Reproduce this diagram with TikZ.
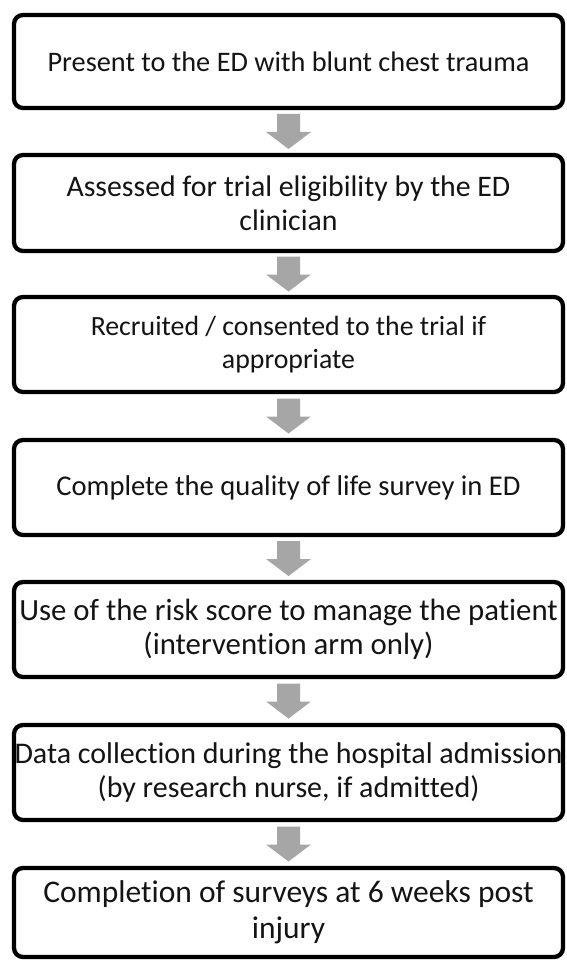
\documentclass[tikz,border=0pt]{standalone}
\usepackage{fontspec}
\setmainfont{Carlito}[RawFeature={-liga;-clig}]
\usetikzlibrary{calc}
\definecolor{arrowgray}{RGB}{166,166,166}
\definecolor{txt}{RGB}{20,20,20}
\tikzset{
  stepbox/.style={draw=black, line width=4.3pt, rounded corners=9pt,
    minimum width=549pt, inner sep=0pt, align=center, text=txt, fill=white},
  flowarrow/.style={fill=arrowgray, draw=none}
}
\newcommand{\fs}[2]{\fontsize{#1}{#2}\selectfont}
\begin{document}
\begin{tikzpicture}[x=1pt,y=-1pt]
\useasboundingbox (0,0) rectangle (566,960);
\node[stepbox, minimum height=93pt, font=\fs{28.3}{34}] (b1) at (288.5,61.5)
  {Present to the ED with blunt chest trauma};
\node[stepbox, minimum height=96pt, font=\fs{29.8}{34}] (b2) at (288.5,203)
  {Assessed for trial eligibility by the ED\\clinician};
\node[stepbox, minimum height=95pt, font=\fs{27.8}{33}] (b3) at (288.5,344.5)
  {Recruited / consented to the trial if\\appropriate};
\node[stepbox, minimum height=95pt, font=\fs{28.6}{34}] (b4) at (288.5,487.5)
  {Complete the quality of life survey in ED};
\node[stepbox, minimum height=95pt, font=\fs{30.8}{34}] (b5) at (288.5,629.5)
  {Use of the risk score to manage the patient\\(intervention arm only)};
\node[stepbox, minimum height=95pt, font=\fs{30}{34}] (b6) at (288.5,772.5)
  {Data collection during the hospital admission\\(by research nurse, if admitted)};
\node[stepbox, minimum height=89pt, font=\fs{31.5}{36}] (b7) at (288.5,912.5)
  {Completion of surveys at 6 weeks post\\injury};
\foreach \a/\b in {b1/b2,b2/b3,b3/b4,b4/b5,b5/b6,b6/b7}{
  \fill[flowarrow] ($(\a.south)!0.5!(\b.north)$) ++(-11.5,-17.5) -- ++(23,0)
    -- ++(0,18) -- ++(11,0) -- ++(-22.5,17) -- ++(-22.5,-17) -- ++(11,0) -- cycle;
}
\end{tikzpicture}
\end{document}
